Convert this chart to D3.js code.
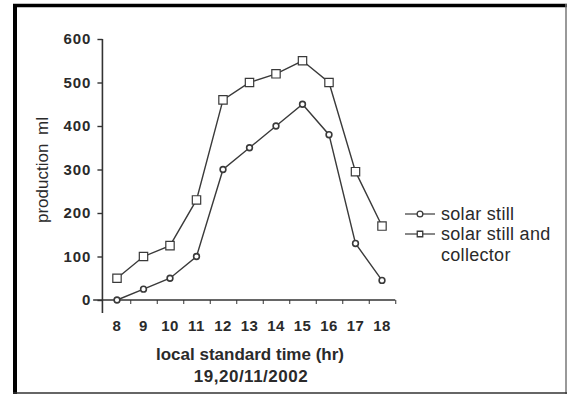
<!DOCTYPE html>
<html>
<head>
<meta charset="utf-8">
<script src="https://cdn.jsdelivr.net/npm/d3@7"></script>
<style>
  body { margin: 0; background: #fff; }
  text { font-family: Arial, "Liberation Sans", sans-serif; fill: #2a2a2a; }
</style>
</head>
<body>
<div class="chart"></div>
<script>
// data
var hours = [8, 9, 10, 11, 12, 13, 14, 15, 16, 17, 18];
var solarStill = [0, 25, 50, 100, 300, 350, 400, 450, 380, 130, 45];
var stillAndCollector = [50, 100, 125, 230, 460, 500, 520, 550, 500, 295, 170];
var yTicks = [0, 100, 200, 300, 400, 500, 600];
var legendLabels = ["solar still", "solar still and", "collector"];

var svgWidth = 568;
var svgHeight = 394;

var svg = d3.select(".chart")
  .append("svg")
  .attr("width", svgWidth)
  .attr("height", svgHeight);

// frame round the figure
svg.append("line").attr("x1", 13).attr("x2", 567).attr("y1", 5.5).attr("y2", 5.5)
  .attr("stroke", "#000").attr("stroke-width", 3.5);
svg.append("line").attr("x1", 15).attr("x2", 15).attr("y1", 4).attr("y2", 394)
  .attr("stroke", "#000").attr("stroke-width", 4);
svg.append("line").attr("x1", 566).attr("x2", 566).attr("y1", 4).attr("y2", 394)
  .attr("stroke", "#777").attr("stroke-width", 1.5);
svg.append("line").attr("x1", 13).attr("x2", 567).attr("y1", 393).attr("y2", 393)
  .attr("stroke", "#333").attr("stroke-width", 1.5);

// scales
var x = d3.scaleLinear().domain([8, 18]).range([117, 382]);
var y = d3.scaleLinear().domain([0, 600]).range([300, 39]);

var axisColor = "#333";

// y axis
var leftAxis = d3.axisLeft(y).tickValues(yTicks).tickSize(5).tickPadding(6);
var yAxis = svg.append("g")
  .attr("transform", `translate(${x(7.45)}, 0)`)
  .call(leftAxis);
yAxis.select(".domain").remove();
yAxis.append("line")
  .attr("y1", y(600)).attr("y2", 313)
  .attr("stroke", axisColor).attr("stroke-width", 1.6);
yAxis.selectAll(".tick line").attr("stroke", axisColor).attr("stroke-width", 1.4);
yAxis.selectAll(".tick text")
  .style("font-size", "15px")
  .style("font-weight", "bold")
  .style("letter-spacing", "1px")
  .attr("fill", "#2a2a2a");

// x axis: line with ticks between the hours, labels on the hours
var xAxisG = svg.append("g").attr("transform", `translate(0, ${y(0)})`);
xAxisG.append("line")
  .attr("x1", x(7.1)).attr("x2", x(18.5))
  .attr("stroke", axisColor).attr("stroke-width", 1.6);
var bottomAxis = d3.axisBottom(x)
  .tickValues(hours.map(d => d + 0.5))
  .tickSize(4)
  .tickFormat("");
var xTickG = xAxisG.append("g").call(bottomAxis);
xTickG.select(".domain").remove();
xTickG.selectAll(".tick line").attr("stroke", axisColor).attr("stroke-width", 1);

xAxisG.selectAll(".hour")
  .data(hours)
  .enter()
  .append("text")
  .attr("class", "hour")
  .attr("x", d => x(d))
  .attr("y", 31)
  .attr("text-anchor", "middle")
  .style("font-size", "15px")
  .style("font-weight", "bold")
  .style("letter-spacing", "0.5px")
  .text(d => d);

// axis titles
svg.append("text")
  .attr("transform", "rotate(-90)")
  .attr("x", -170)
  .attr("y", 48)
  .attr("text-anchor", "middle")
  .style("font-size", "17px")
  .style("word-spacing", "4px")
  .text("production  ml");

svg.append("text")
  .attr("x", 250)
  .attr("y", 360)
  .attr("text-anchor", "middle")
  .style("font-size", "17px")
  .style("font-weight", "bold")
  .text("local standard time (hr)");

svg.append("text")
  .attr("x", 251)
  .attr("y", 382)
  .attr("text-anchor", "middle")
  .style("font-size", "17px")
  .style("font-weight", "bold")
  .style("letter-spacing", "0.5px")
  .text("19,20/11/2002");

// series
var lineColor = "#3a3a3a";
var line = d3.line()
  .x((d, i) => x(hours[i]))
  .y(d => y(d));

svg.append("path")
  .datum(stillAndCollector)
  .attr("d", line)
  .attr("fill", "none")
  .attr("stroke", lineColor)
  .attr("stroke-width", 1.4);

svg.append("path")
  .datum(solarStill)
  .attr("d", line)
  .attr("fill", "none")
  .attr("stroke", lineColor)
  .attr("stroke-width", 1.4);

var squareSym = d3.symbol().type(d3.symbolSquare).size(70);
var circleSym = d3.symbol().type(d3.symbolCircle).size(26);

svg.selectAll(".sq")
  .data(stillAndCollector)
  .enter()
  .append("path")
  .attr("class", "sq")
  .attr("d", squareSym)
  .attr("transform", (d, i) => `translate(${x(hours[i])}, ${y(d)})`)
  .attr("fill", "#fff")
  .attr("stroke", lineColor)
  .attr("stroke-width", 1.2);

svg.selectAll(".ci")
  .data(solarStill)
  .enter()
  .append("path")
  .attr("class", "ci")
  .attr("d", circleSym)
  .attr("transform", (d, i) => `translate(${x(hours[i])}, ${y(d)})`)
  .attr("fill", "#fff")
  .attr("stroke", lineColor)
  .attr("stroke-width", 1.6);

// legend
var legend = svg.append("g").attr("transform", "translate(405, 0)");
var legendRows = [
  { y: 214, sym: circleSym, label: legendLabels[0] },
  { y: 234, sym: d3.symbol().type(d3.symbolSquare).size(30), label: legendLabels[1] }
];
legendRows.forEach(function(r) {
  legend.append("line")
    .attr("x1", 0).attr("x2", 30)
    .attr("y1", r.y).attr("y2", r.y)
    .attr("stroke", lineColor).attr("stroke-width", 1.2);
  legend.append("path")
    .attr("d", r.sym)
    .attr("transform", `translate(15, ${r.y})`)
    .attr("fill", "#fff")
    .attr("stroke", lineColor)
    .attr("stroke-width", 1.3);
  legend.append("text")
    .attr("x", 36)
    .attr("y", r.y + 6)
    .style("font-size", "18px")
    .style("letter-spacing", "0.3px")
    .text(r.label);
});
legend.append("text")
  .attr("x", 36)
  .attr("y", 261)
  .style("font-size", "18px")
  .style("letter-spacing", "0.3px")
  .text(legendLabels[2]);
</script>
</body>
</html>
